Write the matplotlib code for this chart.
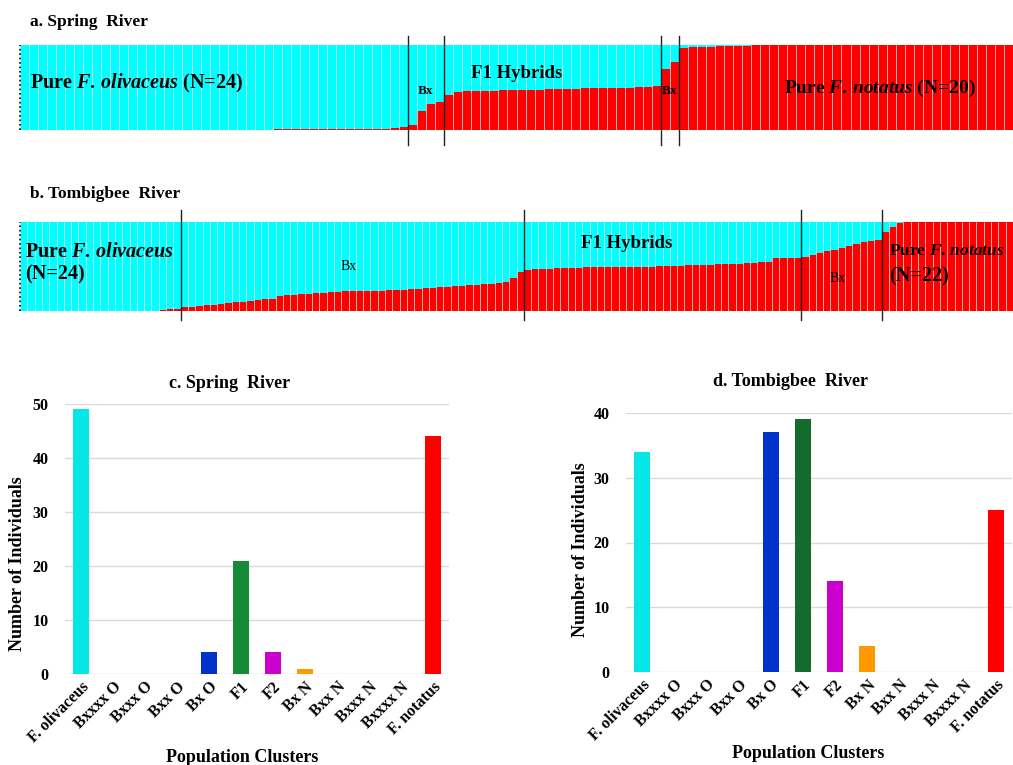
import numpy as np
import matplotlib
matplotlib.use('Agg')
import matplotlib.pyplot as plt

plt.rcParams['font.family'] = ['Liberation Serif', 'DejaVu Serif']
plt.rcParams['font.weight'] = 'bold'
plt.rcParams['mathtext.fontset'] = 'custom'
plt.rcParams['mathtext.rm'] = 'Liberation Serif:bold'
plt.rcParams['mathtext.it'] = 'Liberation Serif:bold:italic'

# ---- structure plot data (proportion of F. notatus ancestry per individual) ----
# Spring River, grouped by the segments between the black lines
spring_olivaceus = [0.0] * 28 + [0.008] * 13 + [0.025, 0.03]
spring_bx1 = [0.06, 0.22, 0.31, 0.33]
spring_f1 = [0.41, 0.45, 0.46, 0.46, 0.46, 0.46, 0.47, 0.47, 0.47, 0.47, 0.47, 0.48,
             0.48, 0.48, 0.48, 0.49, 0.49, 0.49, 0.50, 0.50, 0.50, 0.51, 0.51, 0.52]
spring_bx2 = [0.72, 0.80]
spring_notatus = [0.97, 0.975, 0.98, 0.98, 0.985, 0.99, 0.99, 0.99, 0.995, 0.995] + [1.0] * 27

# Tombigbee River
tomb_olivaceus = [0.0] * 16 + [0.005] * 3 + [0.015, 0.02, 0.025]
tomb_bx1 = [0.04, 0.05, 0.06, 0.07, 0.07, 0.08, 0.09, 0.10, 0.10, 0.11, 0.12, 0.13,
            0.135, 0.17, 0.18, 0.18, 0.19, 0.19, 0.20, 0.20, 0.21, 0.21, 0.22, 0.22,
            0.22, 0.23, 0.23, 0.23, 0.24, 0.24, 0.24, 0.25, 0.25, 0.26, 0.26, 0.27,
            0.27, 0.28, 0.28, 0.29, 0.29, 0.30, 0.30, 0.31, 0.33, 0.37, 0.44]
tomb_f1 = [0.46, 0.47, 0.47, 0.47, 0.48, 0.48, 0.48, 0.48, 0.49, 0.49, 0.49, 0.49,
           0.49, 0.50, 0.50, 0.50, 0.50, 0.50, 0.51, 0.51, 0.51, 0.51, 0.52, 0.52,
           0.52, 0.52, 0.53, 0.53, 0.53, 0.53, 0.54, 0.54, 0.55, 0.55, 0.59, 0.59,
           0.60, 0.60]
tomb_bx2 = [0.61, 0.63, 0.65, 0.67, 0.69, 0.71, 0.73, 0.75, 0.77, 0.79, 0.80]
tomb_notatus = [0.89, 0.94, 0.99, 0.995] + [1.0] * 14

# ---- bar chart data ----
clusters = ['F. olivaceus', 'Bxxxx O', 'Bxxx O', 'Bxx O', 'Bx O', 'F1', 'F2',
            'Bx N', 'Bxx N', 'Bxxx N', 'Bxxxx N', 'F. notatus']
spring_counts = [49, 0, 0, 0, 4, 21, 4, 1, 0, 0, 0, 44]
tomb_counts = [34, 0, 0, 0, 37, 39, 14, 4, 0, 0, 0, 25]
colors_c = ['#07E6E6', 'k', 'k', 'k', '#0033CC', '#178A38', '#CC00CC', '#FF9900',
            'k', 'k', 'k', '#FF0000']
colors_d = ['#07E6E6', 'k', 'k', 'k', '#0033CC', '#146B2E', '#CC00CC', '#FF9900',
            'k', 'k', 'k', '#FF0000']

W, H = 1013, 765
fig = plt.figure(figsize=(W / 100, H / 100), dpi=100)


def px(x, y):
    return x / W, 1 - y / H


def structure(rect, segments, ymin, ymax):
    ax = fig.add_axes(rect)
    red = np.concatenate([np.array(s, dtype=float) for s in segments])
    n = len(red)
    x = np.arange(n)
    ax.bar(x, red, width=1.0, color='#FF0000', linewidth=0)
    ax.bar(x, 1 - red, bottom=red, width=1.0, color='#00FFFF', linewidth=0)
    ax.vlines(np.arange(n + 1) - 0.5, 0, 1, color='white', lw=0.6, alpha=0.8)
    ax.set_xlim(-0.5, n - 0.5)
    ax.set_ylim(0, 1)
    ax.axis('off')
    ax.plot([-0.5, -0.5], [0, 1], color='black', ls=':', lw=1.2, clip_on=False)
    bounds = np.cumsum([len(s) for s in segments])[:-1] - 0.5
    for b in bounds:
        ax.axvline(b, ymin=ymin, ymax=ymax, color='#222222', lw=1.0, clip_on=False)
    return ax


# panel a
structure([20 / W, 1 - 130 / H, 993 / W, 85 / H],
          [spring_olivaceus, spring_bx1, spring_f1, spring_bx2, spring_notatus],
          -0.176, 1.106)
fig.text(*px(30, 22), 'a. Spring  River', fontsize=12.5, va='center', ha='left')
fig.text(*px(30, 83), r'Pure $\mathit{F.\,olivaceus}$ (N=24)', fontsize=14.5,
         va='center', ha='left')
fig.text(*px(425, 91), 'Bx', fontsize=9.5, va='center', ha='center')
fig.text(*px(517, 73), 'F1 Hybrids', fontsize=13.5, va='center', ha='center')
fig.text(*px(669, 91), 'Bx', fontsize=9.5, va='center', ha='center')
fig.text(*px(784, 88), r'Pure $\mathit{F.\,notatus}$ (N=20)', fontsize=14,
         va='center', ha='left')

# panel b
structure([20 / W, 1 - 311 / H, 993 / W, 89 / H],
          [tomb_olivaceus, tomb_bx1, tomb_f1, tomb_bx2, tomb_notatus],
          -0.10, 1.135)
fig.text(*px(30, 194), 'b. Tombigbee  River', fontsize=12.5, va='center', ha='left')
fig.text(*px(25, 252), r'Pure $\mathit{F.\,olivaceus}$', fontsize=14.5,
         va='center', ha='left')
fig.text(*px(25, 274), '(N=24)', fontsize=14.5, va='center', ha='left')
fig.text(*px(349, 266), 'Bx', fontsize=10, va='center', ha='center', fontweight='normal')
fig.text(*px(627, 243), 'F1 Hybrids', fontsize=13.5, va='center', ha='center')
fig.text(*px(838, 278), 'Bx', fontsize=10, va='center', ha='center', fontweight='normal')
fig.text(*px(889, 251), r'Pure $\mathit{F.\,notatus}$', fontsize=12.5,
         va='center', ha='left')
fig.text(*px(889, 276), '(N=22)', fontsize=14.5, va='center', ha='left')


def counts_chart(rect, counts, colors, ymax, title, title_xy, ylabel_xy, xlabel_xy):
    ax = fig.add_axes(rect)
    x = np.arange(len(clusters))
    ax.bar(x, counts, width=0.5, color=colors)
    ax.set_xlim(-0.5, len(clusters) - 0.5)
    ax.set_ylim(0, ymax)
    ax.set_yticks(np.arange(0, ymax + 1, 10))
    ax.yaxis.grid(True, color='#D9D9D9', lw=1)
    ax.set_axisbelow(True)
    for s in ax.spines.values():
        s.set_visible(False)
    ax.tick_params(length=0, labelsize=11.5)
    ax.tick_params(axis='y', pad=12)
    ax.set_xticks(x)
    ax.set_xticklabels(clusters, rotation=45, ha='right', rotation_mode='anchor')
    fig.text(*title_xy, title, fontsize=13, ha='center', va='center')
    fig.text(*ylabel_xy, 'Number of Individuals', fontsize=13, rotation=90,
             ha='center', va='center')
    fig.text(*xlabel_xy, 'Population Clusters', fontsize=13, ha='center', va='center')
    return ax


counts_chart([65 / W, 1 - 674 / H, 384 / W, 270 / H], spring_counts, colors_c, 50,
             'c. Spring  River', px(230, 383), px(18, 564), px(242, 758))
counts_chart([626 / W, 1 - 672 / H, 386 / W, 259 / H], tomb_counts, colors_d, 40,
             'd. Tombigbee  River', px(790, 382), px(580, 550), px(808, 753))

fig.savefig('out.png', dpi=100)
